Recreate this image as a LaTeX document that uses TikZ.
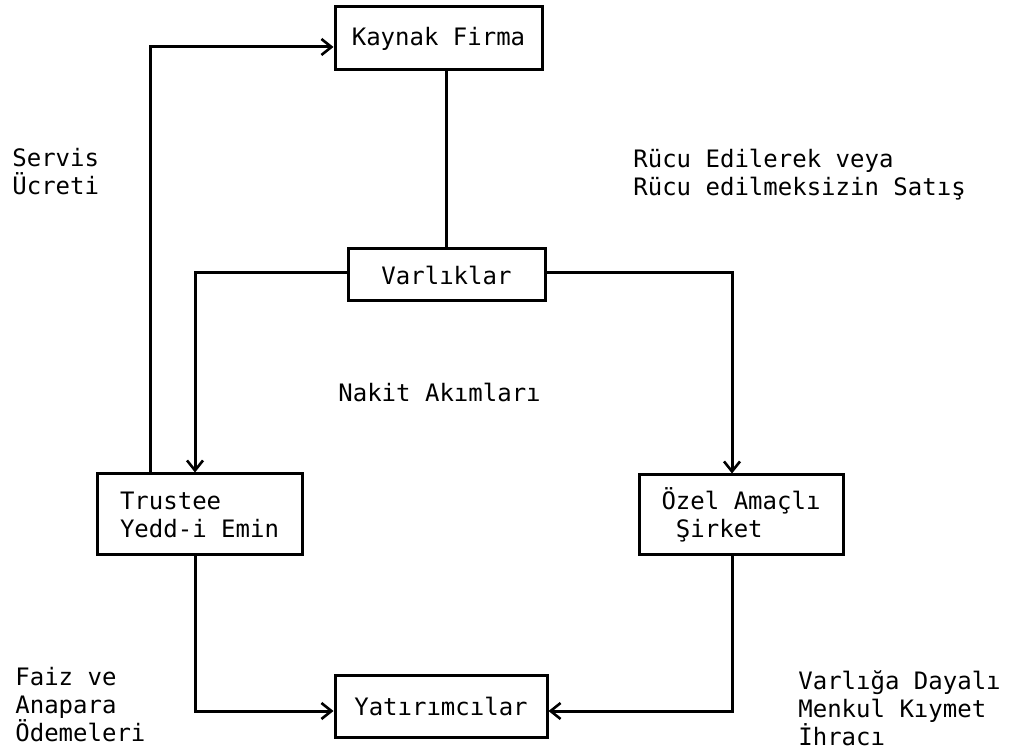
\documentclass[tikz,border=0pt]{standalone}
\usepackage{fontspec}
\setmainfont{DejaVu Sans Mono}
\usetikzlibrary{arrows.meta,positioning,calc}
\tikzset{
  box/.style={draw, line width=1.5pt, align=left, inner sep=0pt,
              font=\fontsize{12}{14}\selectfont},
  note/.style={align=left, inner sep=0pt, anchor=west,
               font=\fontsize{12}{14}\selectfont},
  link/.style={line width=1.5pt},
  flow/.style={link, -{Straight Barb[length=5pt, width=8pt, line width=1.3pt]}},
}

\begin{document}
\begin{tikzpicture}[x=0.5pt, y=-0.5pt]
  \useasboundingbox (0,0) rectangle (1009,749);
  % boxes
  \node[box, minimum width=103.5pt, minimum height=31.5pt] (kaynak) at (438.5,38.5) {Kaynak Firma};
  \node[box, minimum width=98.5pt, minimum height=26pt] (varlik) at (446.5,275) {Varlıklar};
  \node[box, minimum width=102.5pt, minimum height=40.5pt] (trustee) at (199.5,514.5) {Trustee\\Yedd-i Emin};
  \node[box, minimum width=102pt, minimum height=40pt] (ozel) at (741,515) {Özel Amaçlı\\\phantom{x}Şirket};
  \node[box, minimum width=106pt, minimum height=31pt] (yat) at (441,706) {Yatırımcılar};

  % connectors
  \coordinate (svc) at (150,47);
  \draw[flow] (trustee.north -| svc) |- (kaynak.west |- svc);
  \draw[link] (varlik.north |- kaynak.south) -- (varlik.north);
  \draw[flow] ([yshift=1pt]varlik.west) -| ([xshift=-2.25pt]trustee.north);
  \draw[flow] ([yshift=1pt]varlik.east) -| ([xshift=-4.5pt]ozel.north);
  \draw[flow] ([xshift=-2.25pt]trustee.south) |- ([yshift=-2.5pt]yat.west);
  \draw[flow] ([xshift=-4.5pt]ozel.south) |- ([yshift=-2.5pt]yat.east);

  % labels
  \node[note] (servis) at (12,172) {Servis\\Ücreti};
  \node[note] (rucu) at (633,175) {Rücu Edilerek veya\\Rücu edilmeksizin Satış};
  \node[note] (nakit) at (338,392) {Nakit Akımları};
  \node[note] (faiz) at (15,705) {Faiz ve\\Anapara\\Ödemeleri};
  \node[note] (ihrac) at (798,708) {Varlığa Dayalı\\Menkul Kıymet\\İhracı};
\end{tikzpicture}
\end{document}
